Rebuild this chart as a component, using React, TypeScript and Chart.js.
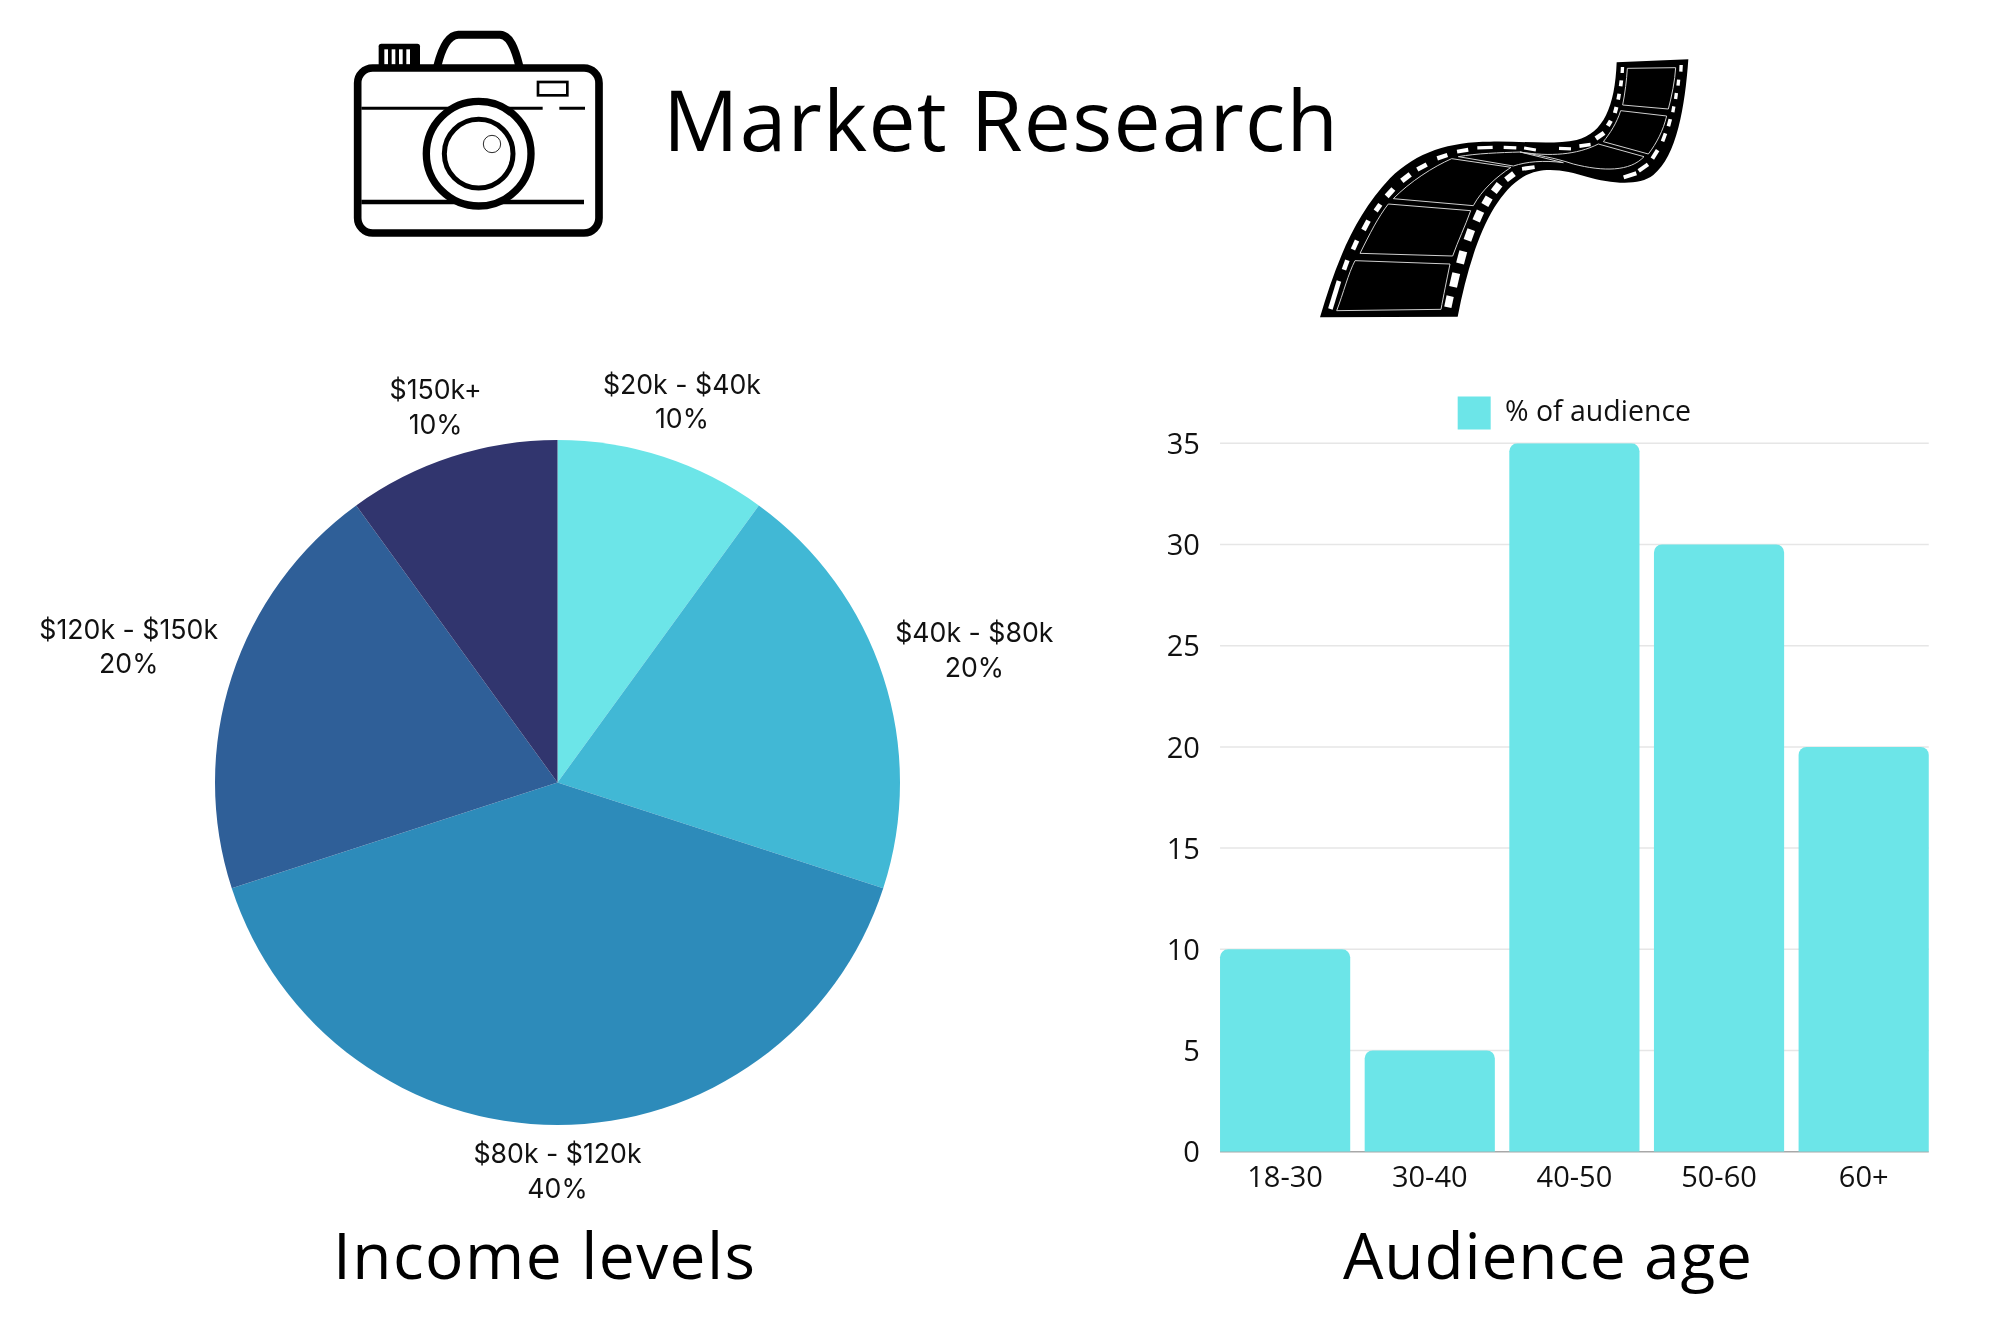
import React, { useRef, useEffect } from 'react';
import { Chart, registerables } from 'chart.js';

Chart.register(...registerables);

const TEXT_FONT = '"Open Sans", sans-serif';
const LABEL_FONT = 'Inter, sans-serif';

const incomeBands = ['$20k - $40k', '$40k - $80k', '$80k - $120k', '$120k - $150k', '$150k+'];
const incomeShares = [10, 20, 40, 20, 10];
const incomeColors = ['#6CE5E8', '#41B8D5', '#2D8BBA', '#2F5F98', '#31356E'];

const ageGroups = ['18-30', '30-40', '40-50', '50-60', '60+'];
const audienceShares = [10, 5, 35, 30, 20];
const barColor = '#6CE5E8';
const ageTicks = [0, 5, 10, 15, 20, 25, 30, 35];

// labels of the pie sit outside the arcs, further away at the sides
const pieLabelsPlugin = {
  id: 'pieLabels',
  afterDraw(chart: any) {
    const { ctx } = chart;
    const arcs = chart.getDatasetMeta(0).data;
    const nudges = [[2.5, -4.5], [-6, 6], [0, 1], [-6, 2.5], [0, 1]];
    ctx.save();
    ctx.font = `26.7px ${LABEL_FONT}`;
    ctx.fillStyle = '#111';
    ctx.textAlign = 'center';
    ctx.textBaseline = 'middle';
    arcs.forEach((arc: any, i: number) => {
      const mid = (arc.startAngle + arc.endAngle) / 2 + Math.PI / 2;
      const dist = arc.outerRadius + 46 + 62 * Math.sin(mid) ** 2;
      const x = arc.x + Math.sin(mid) * dist + nudges[i][0];
      const y = arc.y - Math.cos(mid) * dist + nudges[i][1];
      ctx.fillText(incomeBands[i], x, y - 17);
      ctx.fillText(`${incomeShares[i]}%`, x, y + 17.5);
    });
    ctx.restore();
  },
};

// grid only spans from the first bar to the last one
const barGridPlugin = {
  id: 'barGrid',
  afterLayout(chart: any) {
    // legend sits a bit higher above the plot than chart.js leaves it
    chart.legend.top -= 3.8;
  },
  beforeDatasetsDraw(chart: any) {
    const { ctx } = chart;
    const bars = chart.getDatasetMeta(0).data;
    const left = bars[0].x - bars[0].width / 2;
    const right = bars[bars.length - 1].x + bars[bars.length - 1].width / 2;
    ctx.save();
    ageTicks.forEach((tick) => {
      const y = chart.scales.y.getPixelForValue(tick);
      ctx.strokeStyle = tick === 0 ? '#a8a8a8' : '#e6e6e6';
      ctx.lineWidth = 1.5;
      ctx.beginPath();
      ctx.moveTo(left, y);
      ctx.lineTo(right, y);
      ctx.stroke();
    });
    ctx.restore();
  },
};

const IncomePie: React.FC = () => {
  const canvasRef = useRef<HTMLCanvasElement>(null);

  useEffect(() => {
    if (!canvasRef.current) return;
    const chart = new Chart(canvasRef.current, {
      type: 'pie',
      data: {
        labels: incomeBands,
        datasets: [{ data: incomeShares, backgroundColor: incomeColors, borderWidth: 0 }],
      },
      options: {
        responsive: false,
        animation: false,
        layout: { padding: { left: 215, right: 215, top: 100, bottom: 100 } },
        plugins: { legend: { display: false }, tooltip: { enabled: false } },
      },
      plugins: [pieLabelsPlugin],
    } as any);
    return () => chart.destroy();
  }, []);

  return <canvas ref={canvasRef} width={1115} height={885} style={{ position: 'absolute', left: 0, top: 340 }} />;
};

const AudienceBars: React.FC = () => {
  const canvasRef = useRef<HTMLCanvasElement>(null);

  useEffect(() => {
    if (!canvasRef.current) return;
    const chart = new Chart(canvasRef.current, {
      type: 'bar',
      data: {
        labels: ageGroups,
        datasets: [
          {
            label: '% of audience',
            data: audienceShares,
            backgroundColor: barColor,
            borderRadius: 8,
            barPercentage: 0.9,
            categoryPercentage: 1,
          },
        ],
      },
      options: {
        responsive: false,
        animation: false,
        layout: { padding: { right: 14 } },
        plugins: {
          tooltip: { enabled: false },
          legend: {
            position: 'top',
            fullSize: false, // centre over the plot, not the canvas
            labels: {
              boxWidth: 33,
              boxHeight: 33,
              padding: 22.3,
              color: '#111',
              font: { family: TEXT_FONT, size: 28.5 },
            },
          },
        },
        scales: {
          x: {
            grid: { display: false, drawTicks: false },
            border: { display: false },
            ticks: { color: '#111', padding: 10, font: { family: TEXT_FONT, size: 29 } },
            afterFit: (scale: any) => {
              scale.height = 58.3;
            },
          },
          y: {
            min: 0,
            max: 35,
            grid: { display: false, drawTicks: false },
            border: { display: false },
            ticks: { stepSize: 5, color: '#111', padding: 13, labelOffset: 2.5, font: { family: TEXT_FONT, size: 29 } },
            afterFit: (scale: any) => {
              scale.width = 62.8;
            },
          },
        },
      },
      plugins: [barGridPlugin],
    } as any);
    return () => chart.destroy();
  }, []);

  return <canvas ref={canvasRef} width={800} height={832} style={{ position: 'absolute', left: 1150, top: 378 }} />;
};

const CameraIcon: React.FC = () => (
  <svg viewBox="0 0 900 720" width={300} height={240} style={{ position: 'absolute', left: 330, top: 10 }}>
    <rect x={146} y={101} width={124} height={70} rx={8} fill="#000" />
    {[163, 185, 207, 229].map((x) => (
      <rect key={x} x={x} y={118} width={11} height={46} fill="#fff" />
    ))}
    <path d="M322 168 C335 115 355 75 385 74 L510 74 C540 75 555 115 568 168" fill="none" stroke="#000" strokeWidth={24} />
    <rect x={83} y={174} width={724} height={495} rx={45} fill="#fff" stroke="#000" strokeWidth={23} />
    <rect x={624} y={216} width={88} height={40} fill="none" stroke="#000" strokeWidth={8} />
    <path d="M94 295 H638 M688 295 H765" stroke="#000" strokeWidth={9} />
    <path d="M94 576 H762" stroke="#000" strokeWidth={13} />
    <circle cx={446} cy={431} r={157} fill="#fff" stroke="#000" strokeWidth={22} />
    <circle cx={446} cy={431} r={103} fill="#fff" stroke="#000" strokeWidth={15} />
    <circle cx={486} cy={402} r={26} fill="#fff" stroke="#000" strokeWidth={2.5} />
  </svg>
);

const FilmIcon: React.FC = () => {
  const holes = [
    [74, 765, 14, 88, 17], [107, 675, 14, 30, 20], [135, 615, 14, 30, 24], [168, 556, 15, 32, 28],
    [204, 503, 15, 24, 35], [240, 458, 16, 30, 42], [288, 413, 16, 32, 52], [336, 381, 14, 32, 62],
    [397, 350, 13, 32, 72], [458, 332, 12, 34, 80], [525, 323, 10, 46, 88], [600, 323, 10, 38, 92],
    [660, 327, 9, 36, 100], [765, 326, 10, 36, 92], [825, 316, 11, 34, 82], [870, 287, 14, 30, 55],
    [898, 250, 13, 18, 30], [917, 210, 12, 18, 15], [926, 170, 11, 18, 10], [933, 130, 11, 18, 7], [937, 90, 10, 18, 3],
    [417, 785, 22, 34, 12], [434, 720, 24, 42, 13], [455, 652, 24, 38, 15], [478, 585, 24, 34, 20],
    [505, 528, 24, 32, 24], [531, 484, 24, 26, 30], [560, 444, 22, 28, 38], [600, 410, 18, 30, 52],
    [655, 384, 12, 38, 82], [960, 406, 12, 40, 72], [1000, 383, 12, 34, 55], [1035, 343, 12, 30, 32],
    [1062, 292, 11, 26, 20], [1078, 248, 11, 22, 15], [1090, 208, 10, 18, 10], [1098, 168, 10, 18, 8],
    [1105, 128, 10, 18, 6], [1113, 85, 10, 20, 3],
  ];
  const frames = [
    'M80 812 C100 760 115 700 135 662 L420 672 C410 720 400 770 393 808 Z',
    'M150 640 C180 580 205 530 235 492 L482 512 C465 560 445 600 428 648 Z',
    'M250 476 C300 425 370 380 425 356 L603 382 C560 410 515 450 490 497 Z',
    'M445 350 C500 340 570 338 630 336 L760 368 C700 360 650 365 610 378 Z',
    'M630 336 C720 350 800 345 865 312 L1002 350 C960 395 880 395 790 372 C730 352 680 345 630 336 Z',
    'M880 305 C900 280 920 250 932 212 L1070 228 C1060 270 1040 310 1015 342 Z',
    'M938 195 C945 160 950 120 952 85 L1097 83 C1095 120 1085 170 1075 207 Z',
  ];
  return (
    <svg viewBox="0 0 1230 870" width={410} height={290} style={{ position: 'absolute', left: 1310, top: 40 }}>
      <path
        d="M30 832 C75 680 130 530 240 415 C320 335 420 305 540 305 C640 303 730 315 800 300 C880 280 915 200 920 67 L1135 58 C1125 200 1100 350 1030 405 C985 440 900 430 830 410 C770 392 700 375 640 410 C540 470 480 640 443 830 Z"
        fill="#000"
      />
      {frames.map((d) => (
        <path key={d} d={d} fill="none" stroke="#cfcfcf" strokeWidth={3} />
      ))}
      {holes.map(([x, y, w, h, a]) => (
        <rect key={`${x}-${y}`} x={-w / 2} y={-h / 2} width={w} height={h} fill="#fff" transform={`translate(${x} ${y}) rotate(${a})`} />
      ))}
    </svg>
  );
};

const App: React.FC = () => (
  <div style={{ position: 'absolute', left: 0, top: 0, width: 2000, height: 1333, background: '#fff', overflow: 'hidden' }}>
    <CameraIcon />
    <FilmIcon />
    <IncomePie />
    <AudienceBars />
    <svg width={2000} height={1333} style={{ position: 'absolute', left: 0, top: 0, pointerEvents: 'none' }} fontFamily={TEXT_FONT} fill="#000">
      <text x={663} y={151} fontSize={84} textLength={675} lengthAdjust="spacing">Market Research</text>
      <text x={333} y={1279} fontSize={64} textLength={422} lengthAdjust="spacing">Income levels</text>
      <text x={1343} y={1279} fontSize={64} textLength={409} lengthAdjust="spacing">Audience age</text>
    </svg>
  </div>
);

export default App;
